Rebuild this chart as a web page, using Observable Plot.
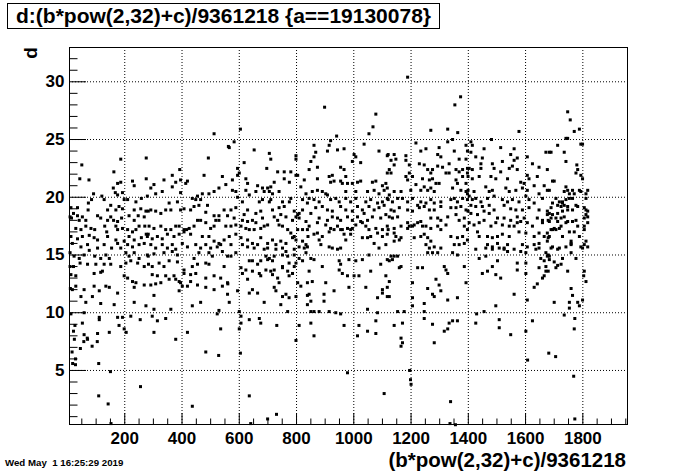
<!DOCTYPE html>
<html><head><meta charset="utf-8">
<script src="https://cdn.jsdelivr.net/npm/d3@7"></script>
<script src="https://cdn.jsdelivr.net/npm/@observablehq/plot@0.6"></script>
<style>
body{margin:0;background:#fff;}
#wrap{position:relative;width:696px;height:472px;font-family:"Liberation Sans",Arial,sans-serif;font-weight:bold;color:#000;overflow:hidden;}
#wrap svg{position:absolute;left:0;top:0;}
#title{position:absolute;left:7px;top:3px;width:433px;height:26px;border:1px solid #000;box-sizing:border-box;font-size:21px;line-height:24px;text-align:center;white-space:nowrap;background:#fff;}
#ytitle{position:absolute;left:30px;top:53px;transform:translate(-50%,-50%) rotate(-90deg);font-size:19px;line-height:19px;}
#xtitle{position:absolute;right:70px;top:449px;font-size:20.5px;line-height:22px;white-space:nowrap;}
#date{position:absolute;left:5px;top:457px;font-size:9.7px;line-height:12px;white-space:pre;}
</style></head>
<body><div id="wrap">
<div id="title">d:(b*pow(2,32)+c)/9361218 {a==19130078}</div>
<div id="ytitle">d</div>
<div id="xtitle">(b*pow(2,32)+c)/9361218</div>
<div id="date">Wed May  1 16:25:29 2019</div>
</div>
<script>
const xTicks = [200,400,600,800,1000,1200,1400,1600,1800];
const yTicks = [5,10,15,20,25,30];
const xMinorTicks = d3.range(50,1951,50).filter(v => v % 200 !== 0);
const yMinorTicks = d3.range(1,33).filter(v => v % 5 !== 0);

const band0 = [[50,22.8],[186,23.3],[275,23.4],[162,22.2],[43,21.6],[75,21.5],[175,21.2],[186,21.3],[160,20.8],[227,21.4],[233,21.0],[275,21.6],[91,20.3],[84,19.8],[73,19.5],[167,20.4],[175,20.2],[192,20.4],[120,20.1],[128,19.8],[198,19.8],[210,19.8],[239,19.6],[258,19.9],[279,20.1],[35,19.1],[12,19.1],[72,18.9],[21,18.6],[151,19.3],[180,19.2],[140,18.9],[169,18.9],[192,19.0],[233,18.9],[256,19.0],[274,18.8],[9,18.3],[14,18.2],[35,18.4],[52,18.3],[64,18.0],[41,18.0],[105,18.4],[116,18.2],[151,18.3],[161,18.0],[140,18.0],[175,17.9],[189,18.2],[215,18.4],[233,18.0],[247,18.4],[268,18.3],[29,17.3],[47,17.2],[64,17.5],[82,17.3],[95,17.2],[130,17.5],[137,17.0],[169,17.5],[175,17.2],[192,17.3],[210,17.2],[227,17.0],[239,17.2],[250,17.5],[270,17.5],[279,16.6],[12,16.6],[35,16.4],[52,16.6],[76,16.7],[93,16.5],[105,16.3],[140,16.6],[169,16.3],[198,16.2],[215,16.6],[233,16.3],[258,16.5],[275,16.8],[17,16.0],[47,15.7],[70,15.9],[105,15.6],[128,15.9],[154,15.6],[175,16.0],[186,15.6],[210,15.9],[227,15.7],[250,15.9],[268,16.0],[9,15.2],[23,14.9],[41,14.7],[58,15.0],[76,15.4],[95,14.9],[116,14.7],[134,15.0],[146,14.7],[204,15.2],[215,14.9],[233,15.2],[250,14.7],[279,15.0],[9,14.0],[21,14.0],[44,14.3],[70,14.2],[99,14.2],[128,14.2],[151,14.2],[186,14.0],[204,14.3],[221,14.5],[245,14.3],[268,14.0],[12,13.3],[29,13.2],[93,13.4],[116,13.5],[122,13.6],[198,13.2],[210,13.0],[227,12.7],[239,12.6],[10,12.1],[17,12.0],[29,12.3],[58,12.0],[93,12.3],[111,11.9],[134,12.3],[146,12.2],[175,11.7],[233,12.2],[268,12.4],[47,11.4],[64,10.9],[87,11.4],[116,10.8],[163,10.7],[233,10.9],[274,10.6],[12,9.9],[58,10.0],[111,9.6],[175,9.6],[192,9.6],[221,9.7],[254,9.4],[26,8.9],[52,9.1],[111,9.4],[180,8.9],[198,8.6],[21,8.4],[58,8.1],[105,8.2],[146,8.3],[205,8.3],[70,7.7]];

const band1 = [[512,25.5],[562,24.4],[492,23.4],[392,22.4],[477,21.9],[366,21.9],[337,21.5],[302,21.1],[291,20.8],[378,21.3],[395,21.5],[413,21.2],[419,21.4],[331,20.5],[308,20.3],[366,20.9],[395,20.4],[541,21.8],[553,21.1],[529,20.8],[512,20.5],[494,20.3],[471,20.3],[454,20.1],[436,19.9],[465,19.8],[448,19.8],[384,19.6],[355,19.5],[291,18.9],[282,18.8],[308,18.8],[326,18.6],[343,18.9],[361,18.9],[395,18.9],[407,19.0],[430,18.9],[442,19.2],[459,19.3],[489,19.3],[483,18.7],[512,18.4],[529,18.4],[547,18.9],[559,18.4],[529,18.0],[518,18.0],[285,17.5],[302,17.3],[326,17.5],[343,17.2],[361,17.2],[378,17.5],[390,17.5],[407,17.2],[425,17.3],[442,17.5],[454,18.0],[465,18.0],[483,17.8],[500,17.3],[512,17.5],[553,17.5],[282,16.8],[296,16.4],[314,16.6],[331,16.4],[349,16.8],[372,16.6],[390,16.8],[407,17.0],[416,17.2],[430,16.8],[471,16.6],[494,16.6],[512,16.2],[535,15.9],[547,16.3],[291,15.9],[308,15.6],[331,15.9],[349,15.6],[366,15.9],[378,15.5],[401,16.0],[419,15.7],[448,15.9],[465,15.6],[483,15.9],[500,15.6],[523,15.7],[529,16.0],[282,14.9],[302,15.1],[337,15.2],[366,15.3],[384,15.0],[442,14.7],[459,15.2],[494,15.2],[506,14.9],[541,15.3],[559,14.9],[283,14.2],[296,14.0],[320,14.3],[337,14.0],[355,14.5],[384,14.4],[407,13.7],[436,14.0],[454,14.2],[483,14.3],[494,14.2],[547,14.0],[296,13.3],[314,13.2],[343,13.2],[372,13.2],[390,12.7],[407,13.4],[430,13.3],[448,13.4],[483,13.0],[512,13.2],[535,13.0],[291,12.4],[308,12.5],[326,12.6],[355,12.9],[378,12.9],[395,12.6],[401,12.3],[419,12.3],[430,12.7],[454,12.4],[483,12.2],[512,12.0],[541,12.3],[559,12.6],[390,11.9],[302,11.5],[465,10.9],[559,11.6],[436,10.6],[529,10.2],[302,10.3],[361,10.3],[296,9.7],[314,9.3],[343,9.5],[523,9.9],[535,8.6],[302,8.3],[378,7.7],[419,8.3]];

const band2 = [[582,24.8],[565,24.3],[652,24.1],[705,23.8],[710,23.3],[798,23.6],[798,23.3],[617,23.0],[594,22.5],[600,22.1],[594,21.9],[696,22.5],[734,22.2],[757,22.2],[780,22.2],[798,21.9],[804,21.9],[576,21.5],[623,21.6],[629,21.2],[722,21.3],[757,21.6],[775,21.3],[827,21.5],[664,21.0],[681,20.8],[699,20.8],[710,20.9],[687,20.5],[705,20.5],[716,20.3],[576,20.6],[588,20.5],[623,20.6],[635,20.2],[658,20.5],[739,20.5],[780,19.9],[815,20.9],[833,20.3],[594,20.0],[611,19.6],[670,19.6],[681,19.8],[705,19.6],[710,19.8],[751,19.6],[775,19.6],[821,19.8],[838,19.5],[571,18.9],[588,19.1],[629,18.9],[658,18.6],[675,18.8],[716,18.9],[739,19.1],[757,19.2],[792,18.8],[804,18.5],[809,18.6],[821,18.9],[582,18.2],[611,18.0],[617,18.5],[629,17.9],[646,18.0],[658,17.8],[681,18.2],[722,18.3],[734,18.0],[745,18.5],[763,18.3],[786,18.0],[798,18.3],[809,18.2],[833,17.9],[571,17.5],[588,17.6],[606,17.5],[623,17.3],[635,17.2],[652,17.2],[675,17.3],[687,17.5],[699,17.6],[739,17.6],[751,17.5],[769,17.2],[780,16.9],[792,16.6],[804,17.2],[821,17.2],[838,17.2],[565,16.6],[588,16.8],[606,16.5],[629,16.3],[646,16.0],[675,16.5],[699,16.0],[716,16.3],[728,15.9],[745,16.2],[763,16.0],[786,16.5],[798,16.3],[821,16.2],[833,15.9],[571,15.9],[611,15.9],[629,15.7],[652,15.6],[664,15.9],[687,15.5],[699,15.6],[728,15.5],[751,15.6],[763,15.3],[792,15.5],[809,15.7],[827,15.6],[838,15.7],[571,14.9],[588,15.2],[693,14.9],[705,14.7],[722,14.9],[751,15.0],[769,14.9],[792,15.0],[809,14.7],[833,15.2],[635,14.5],[646,14.5],[664,14.2],[675,14.5],[699,14.6],[716,14.5],[751,14.0],[774,14.3],[798,14.3],[821,14.5],[606,13.9],[623,13.7],[646,13.6],[670,13.4],[693,13.7],[710,13.6],[722,13.7],[751,13.9],[769,13.6],[786,13.4],[792,14.0],[611,13.4],[629,12.9],[675,13.2],[716,13.3],[734,13.0],[739,12.6],[774,13.2],[804,12.6],[815,12.3],[838,12.6],[560,12.5],[594,11.9],[635,11.7],[646,12.0],[664,11.7],[722,12.2],[728,11.9],[751,11.4],[763,11.6],[774,11.3],[798,11.4],[838,11.5],[565,10.9],[687,10.9],[745,10.7],[838,10.7],[600,10.1],[606,9.7],[606,9.1],[635,9.4],[670,9.5],[675,9.1],[731,8.9],[769,10.1],[809,8.9],[600,8.6],[798,7.6]];

const band3 = [[1053,25.5],[940,25.3],[919,24.9],[914,24.5],[861,24.5],[867,23.9],[861,23.5],[908,24.0],[943,24.1],[966,24.2],[1036,24.6],[1088,24.0],[1117,23.6],[1001,23.7],[1007,23.5],[995,23.1],[1024,23.0],[850,23.1],[873,22.6],[954,22.6],[966,22.4],[972,21.8],[844,22.4],[1117,22.1],[873,21.6],[914,21.8],[925,21.9],[919,21.3],[931,21.4],[954,21.4],[960,21.2],[978,21.2],[995,21.2],[1013,21.3],[1024,21.4],[1065,21.3],[1077,21.4],[1100,21.0],[1112,21.2],[1117,20.8],[855,20.5],[873,20.6],[890,20.5],[902,20.3],[908,20.2],[972,20.5],[1007,20.5],[1048,20.5],[1071,20.6],[1088,20.3],[1106,20.6],[844,19.9],[861,19.8],[879,19.6],[919,19.8],[937,19.9],[949,19.6],[972,19.9],[989,19.6],[1007,19.9],[1042,19.6],[1059,19.8],[1083,19.5],[1100,19.6],[1117,19.9],[850,18.6],[867,19.1],[890,19.2],[908,18.9],[925,18.8],[954,19.2],[972,18.9],[995,18.8],[1013,19.2],[1030,18.9],[1036,18.6],[1053,19.2],[1071,18.9],[1088,19.1],[1106,19.3],[879,18.2],[908,18.0],[925,18.3],[943,18.2],[954,18.0],[978,18.3],[995,18.0],[1013,18.3],[1024,17.9],[1048,18.0],[1065,18.3],[1094,18.2],[1112,18.5],[844,17.5],[873,17.8],[902,17.6],[919,17.3],[943,17.5],[960,17.2],[978,17.3],[989,17.2],[1007,17.6],[1030,17.8],[1042,17.5],[1053,17.2],[1077,17.3],[1100,17.2],[1117,17.5],[840,16.6],[861,16.8],[873,16.9],[890,16.6],[914,17.0],[931,17.2],[954,17.2],[966,16.8],[995,17.3],[1030,16.5],[1048,16.5],[1059,16.6],[1083,16.9],[1100,16.6],[1117,16.8],[879,16.3],[885,15.9],[914,15.7],[925,15.6],[943,15.5],[954,15.6],[972,16.3],[989,16.8],[1071,16.0],[1088,15.6],[1112,15.9],[861,14.6],[850,14.7],[949,14.5],[954,14.2],[983,14.6],[1007,14.5],[1030,14.6],[1053,15.0],[1094,14.2],[1117,14.6],[890,14.0],[844,13.6],[949,13.7],[978,13.2],[1001,13.2],[1018,13.2],[960,13.4],[1059,13.6],[1112,13.2],[855,12.7],[902,12.6],[931,11.9],[983,12.2],[1042,12.2],[1100,12.0],[1117,12.2],[1100,11.7],[844,11.6],[896,11.6],[896,11.0],[850,11.0],[1083,11.3],[1117,11.4],[850,10.1],[861,10.1],[879,10.1],[914,10.1],[937,10.0],[954,9.9],[1048,10.3],[1083,10.0],[850,9.1],[966,8.9],[1018,8.9],[1077,9.3],[1048,8.4],[1077,8.2],[861,8.0],[1013,8.0]];

const band4 = [[1269,25.8],[1363,25.6],[1217,24.7],[1328,24.8],[1345,25.0],[1234,24.0],[1252,24.2],[1298,24.3],[1351,24.0],[1392,24.5],[1397,24.0],[1120,23.7],[1141,23.7],[1182,23.6],[1293,23.7],[1304,23.5],[1130,23.2],[1147,23.3],[1182,23.2],[1368,23.3],[1392,23.3],[1229,22.9],[1246,22.8],[1141,22.8],[1124,22.4],[1194,22.8],[1258,22.4],[1275,22.4],[1293,22.7],[1310,22.6],[1333,22.9],[1357,22.4],[1368,22.2],[1380,22.4],[1397,22.5],[1130,22.1],[1194,22.1],[1182,21.8],[1188,21.5],[1205,21.8],[1269,22.1],[1322,22.1],[1333,22.1],[1380,21.8],[1397,22.1],[1240,21.6],[1264,21.5],[1275,21.6],[1287,21.2],[1298,21.2],[1357,21.5],[1362,21.2],[1392,21.2],[1217,21.1],[1246,20.9],[1234,20.6],[1199,20.6],[1258,20.6],[1269,20.8],[1281,20.5],[1345,20.8],[1374,20.6],[1392,20.5],[1397,20.3],[1141,20.5],[1165,20.5],[1124,20.2],[1120,19.8],[1135,19.6],[1153,19.9],[1170,19.9],[1188,19.6],[1205,19.9],[1223,19.3],[1234,19.6],[1252,19.5],[1269,19.8],[1281,19.5],[1304,19.6],[1339,19.8],[1351,19.9],[1362,19.6],[1380,19.9],[1397,19.8],[1130,18.9],[1141,18.8],[1159,19.1],[1188,18.9],[1205,18.8],[1229,19.1],[1246,19.2],[1264,18.9],[1281,18.9],[1304,19.2],[1339,19.1],[1357,19.1],[1374,19.2],[1392,18.9],[1124,18.3],[1135,18.2],[1153,18.3],[1188,17.8],[1194,17.5],[1211,17.6],[1223,17.8],[1234,17.9],[1240,17.5],[1269,18.2],[1293,18.2],[1304,18.0],[1328,18.3],[1357,18.5],[1368,18.0],[1386,18.2],[1120,17.2],[1141,17.3],[1165,17.5],[1188,17.3],[1205,17.5],[1252,17.5],[1269,17.3],[1293,17.5],[1304,17.2],[1322,17.6],[1386,17.5],[1397,17.2],[1141,16.9],[1147,16.6],[1165,16.5],[1211,16.5],[1234,16.6],[1246,16.8],[1258,16.5],[1269,16.2],[1339,16.6],[1362,16.5],[1380,16.6],[1397,16.3],[1141,16.2],[1159,16.3],[1252,15.9],[1264,15.6],[1281,15.7],[1304,15.6],[1351,15.9],[1368,15.9],[1386,16.0],[1258,15.2],[1275,15.2],[1293,15.2],[1345,15.2],[1362,15.0],[1130,14.9],[1141,14.9],[1153,14.9],[1124,14.5],[1135,14.6],[1165,14.0],[1159,13.9],[1223,13.9],[1240,13.9],[1316,14.0],[1322,13.7],[1328,13.4],[1386,14.0],[1124,12.7],[1205,12.6],[1287,12.9],[1298,12.4],[1392,12.6],[1258,12.1],[1275,11.6],[1281,11.4],[1304,11.9],[1328,11.1],[1362,11.3],[1124,11.4],[1205,11.3],[1205,10.6],[1246,10.8],[1153,10.1],[1176,10.1],[1246,10.1],[1246,9.5],[1141,8.9],[1170,9.1],[1275,9.0],[1333,9.1],[1345,9.3],[1362,9.3],[1328,8.6],[1316,8.4],[1165,7.8],[1170,7.4],[1165,7.1],[1281,7.4]];

const band5 = [[1577,25.7],[1481,25.0],[1409,24.8],[1414,24.5],[1455,24.2],[1513,24.3],[1560,24.2],[1671,23.9],[1409,23.9],[1426,23.5],[1449,23.4],[1444,22.9],[1484,22.9],[1519,23.1],[1548,23.7],[1560,23.2],[1571,23.4],[1606,23.5],[1624,22.9],[1647,22.6],[1403,22.5],[1414,22.4],[1444,22.5],[1490,22.5],[1513,22.2],[1543,22.5],[1554,22.7],[1571,22.4],[1606,21.9],[1676,22.4],[1399,21.8],[1414,21.6],[1438,21.8],[1479,21.8],[1496,21.6],[1537,21.6],[1583,21.3],[1595,21.2],[1612,21.6],[1630,21.0],[1641,21.8],[1399,20.6],[1420,20.5],[1461,20.9],[1473,20.5],[1484,20.6],[1531,20.8],[1543,20.5],[1566,20.6],[1589,20.8],[1606,20.6],[1647,20.3],[1676,20.6],[1665,21.0],[1403,20.1],[1414,19.8],[1426,19.9],[1444,19.6],[1467,19.9],[1490,20.1],[1519,19.8],[1537,19.6],[1554,19.8],[1577,19.6],[1601,20.1],[1612,19.8],[1630,19.5],[1659,19.9],[1409,19.3],[1426,19.2],[1449,19.2],[1473,19.3],[1490,18.9],[1525,19.3],[1548,19.0],[1566,18.9],[1589,18.9],[1612,19.1],[1647,18.9],[1676,18.8],[1399,18.8],[1409,18.6],[1432,18.5],[1455,18.8],[1473,18.6],[1502,18.2],[1525,18.2],[1548,18.0],[1571,18.3],[1583,17.9],[1595,18.2],[1641,18.2],[1659,18.0],[1676,18.5],[1403,17.8],[1420,17.6],[1438,17.8],[1455,18.0],[1479,17.5],[1496,17.8],[1519,17.6],[1543,17.5],[1560,17.5],[1571,17.8],[1606,17.8],[1624,17.5],[1659,17.8],[1432,17.0],[1438,16.6],[1467,16.6],[1484,16.5],[1502,16.6],[1519,16.8],[1543,16.6],[1577,17.0],[1601,16.9],[1630,16.6],[1647,16.9],[1665,16.6],[1676,16.9],[1467,15.9],[1484,15.7],[1502,16.0],[1525,15.6],[1537,15.9],[1589,15.9],[1606,15.7],[1630,15.9],[1647,16.0],[1676,16.2],[1426,15.5],[1461,15.6],[1484,15.5],[1508,15.6],[1525,15.5],[1537,15.3],[1560,15.5],[1583,15.3],[1601,15.2],[1636,15.5],[1647,15.6],[1671,15.2],[1676,14.9],[1438,14.7],[1461,14.9],[1502,14.5],[1571,14.3],[1601,14.3],[1653,14.7],[1665,14.5],[1671,14.0],[1484,14.0],[1449,13.4],[1467,13.6],[1496,13.3],[1513,13.0],[1571,13.7],[1601,13.4],[1647,13.9],[1671,13.6],[1659,13.0],[1665,13.2],[1630,12.2],[1641,12.5],[1606,11.1],[1560,11.6],[1496,10.6],[1429,9.9],[1455,10.1],[1426,9.1],[1508,9.4],[1508,8.7],[1624,9.3],[1548,8.1],[1601,8.4]];

const band6 = [[1788,25.9],[1770,25.7],[1747,25.1],[1741,25.1],[1799,24.6],[1793,24.6],[1712,24.5],[1683,23.9],[1689,23.9],[1735,23.9],[1741,23.1],[1779,22.8],[1782,22.4],[1776,22.1],[1793,21.9],[1799,21.6],[1694,21.4],[1700,21.4],[1683,20.6],[1741,20.9],[1747,20.6],[1735,20.5],[1764,20.6],[1770,20.3],[1788,20.6],[1793,20.5],[1817,20.6],[1811,20.3],[1753,20.3],[1706,19.9],[1718,19.6],[1729,19.6],[1741,19.8],[1753,19.9],[1764,19.9],[1811,19.9],[1694,19.5],[1712,19.3],[1729,19.5],[1735,19.3],[1689,19.1],[1724,19.2],[1747,19.2],[1776,19.3],[1805,19.1],[1811,18.9],[1817,18.8],[1764,18.9],[1782,19.2],[1683,18.6],[1694,18.5],[1712,18.6],[1729,18.8],[1747,18.9],[1689,18.2],[1706,18.2],[1724,18.2],[1735,18.3],[1811,18.5],[1817,18.3],[1805,18.2],[1679,18.0],[1683,17.9],[1712,17.9],[1741,17.8],[1747,17.9],[1764,17.9],[1776,18.0],[1817,17.8],[1805,17.5],[1689,17.2],[1694,17.2],[1700,17.3],[1706,17.2],[1718,17.3],[1724,17.5],[1753,17.0],[1770,17.0],[1782,17.5],[1805,17.2],[1679,16.5],[1683,16.6],[1729,16.6],[1759,16.2],[1759,16.0],[1811,16.2],[1788,16.6],[1689,15.6],[1694,15.7],[1718,15.6],[1712,15.5],[1741,15.7],[1759,15.9],[1793,15.7],[1805,15.9],[1799,15.6],[1817,15.7],[1679,15.0],[1683,14.9],[1759,15.2],[1776,14.7],[1683,14.6],[1700,14.4],[1729,14.7],[1706,13.9],[1712,14.1],[1724,14.2],[1679,13.6],[1747,13.6],[1805,13.6],[1803,13.2],[1811,12.7],[1759,12.1],[1764,11.5],[1700,10.9],[1753,10.9],[1782,10.9],[1799,11.1],[1788,10.6],[1753,10.4],[1735,9.8],[1772,9.5],[1770,8.6]];

const sparseHigh = [[898,27.8],[1067,26.1],[1077,27.2],[1188,30.4],[1373,28.7],[1353,28.0],[1328,25.9],[1747,27.4],[1756,26.7],[604,25.9]];

const sparseLow = [[16,6.6],[28,6.0],[18,5.6],[28,5.5],[109,5.6],[150,4.9],[109,2.8],[142,2.1],[152,0.4],[24,7.7],[57,7.5],[69,7.8],[86,7.1],[45,6.9],[104,7.5],[255,3.6],[436,1.9],[635,2.8],[640,0.4],[699,0.8],[730,1.2],[1106,3.0],[1200,3.8],[1338,2.3],[1336,0.4],[1355,0.3],[1772,0.8],[978,4.8],[1198,4.2],[1195,5.0],[1607,5.9],[1681,6.5],[1705,6.2],[1768,4.5],[604,6.5],[528,6.3],[483,6.6]];

const points = [band0, band1, band2, band3, band4, band5, band6, sparseHigh, sparseLow]
  .flat().map(([x, y]) => ({x, y}));

const blank = () => "";
const chart = Plot.plot({
  width: 696,
  height: 472,
  marginLeft: 69,
  marginRight: 69,
  marginTop: 47,
  marginBottom: 48,
  x: {domain: [7, 1956]},
  y: {domain: [0.32, 32.97]},
  style: {fontFamily: "'Liberation Sans', Arial, sans-serif", fontWeight: "bold", fontSize: "17px", color: "black", background: "transparent", overflow: "visible"},
  marks: [
    Plot.gridX(xTicks, {stroke: "black", strokeOpacity: 1, strokeDasharray: "1,2", strokeWidth: 1}),
    Plot.gridY(yTicks, {stroke: "black", strokeOpacity: 1, strokeDasharray: "1,2", strokeWidth: 1}),
    Plot.dot(points, {x: "x", y: "y", symbol: "square", r: 1.7, fill: "black", stroke: null}),
    Plot.frame({stroke: "black", strokeWidth: 1}),
    Plot.axisX(xTicks, {tickSize: 11, dy: -11, tickFormat: blank, label: null}),
    Plot.axisX(xMinorTicks, {tickSize: 5.5, dy: -5.5, tickFormat: blank, label: null}),
    Plot.axisY(yTicks, {tickSize: 17, dx: 17, tickFormat: blank, label: null}),
    Plot.axisY(yMinorTicks, {tickSize: 8.5, dx: 8.5, tickFormat: blank, label: null}),
    Plot.axisX(xTicks, {tickSize: 0, tickPadding: 7, tickFormat: d => String(d), label: null, fontSize: 17}),
    Plot.axisY(yTicks, {tickSize: 0, tickPadding: 5, tickFormat: d => String(d), label: null, fontSize: 17})
  ]
});
document.getElementById("wrap").prepend(chart);
</script>
</body></html>
